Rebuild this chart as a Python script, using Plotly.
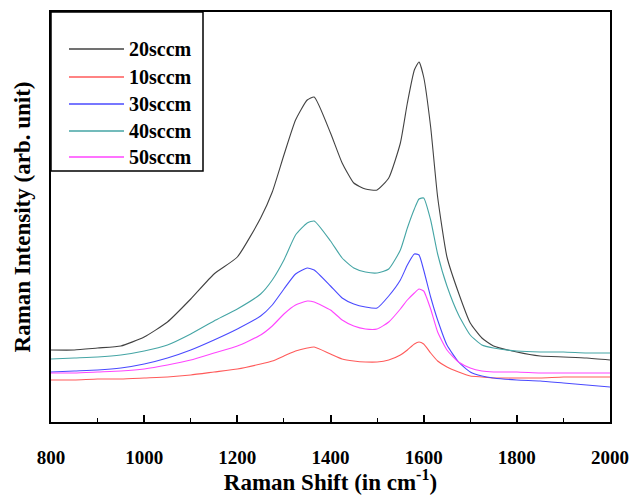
import plotly.graph_objects as go

# Raman shift (cm^-1) sample positions
shift = [800, 850, 900, 950, 1000, 1050, 1100, 1150, 1200, 1250, 1275, 1300, 1325,
         1350, 1365, 1400, 1425, 1450, 1475, 1500, 1525, 1550, 1565, 1580, 1590,
         1600, 1615, 1630, 1650, 1675, 1700, 1725, 1750, 1800, 1850, 1900, 1950, 2000]

# Intensities (arb. unit)
i_20 = [72, 72, 74, 76, 85, 100, 123, 148, 165, 204, 230, 267, 302,
        322, 325, 289, 259, 239, 233, 232, 244, 279, 319, 352, 360,
        345, 295, 225, 165, 129, 99, 84, 76, 70, 66, 65, 64, 62]
i_10 = [42, 42, 43, 43, 44, 45, 47, 50, 53, 58, 61, 66, 71,
        74, 75, 68, 63, 61, 60, 60, 62, 67, 72, 78, 80,
        78, 69, 61, 55, 50, 46, 45, 44, 44, 44, 45, 45, 45]
i_30 = [50, 51, 52, 54, 58, 64, 72, 82, 93, 106, 117, 133, 148,
        154, 152, 136, 124, 118, 115, 114, 126, 142, 157, 168, 167,
        152, 125, 102, 77, 60, 50, 46, 44, 42, 41, 39, 37, 35]
i_40 = [63, 64, 65, 67, 71, 77, 88, 101, 113, 128, 142, 162, 187,
        199, 201, 181, 164, 154, 150, 149, 153, 172, 194, 213, 223,
        224, 202, 168, 136, 107, 87, 77, 74, 71, 70, 70, 69, 69]
i_50 = [49, 49, 50, 51, 53, 57, 62, 69, 76, 87, 96, 108, 117,
        121, 120, 112, 102, 96, 93, 93, 100, 113, 122, 129, 133,
        131, 113, 90, 72, 60, 54, 51, 50, 50, 49, 49, 49, 49]

names = ["20sccm", "10sccm", "30sccm", "40sccm", "50sccm"]
series = [i_20, i_10, i_30, i_40, i_50]
colors = ["#424242", "#ff5a5a", "#4a4aff", "#45a5a5", "#ff45ff"]

x_ticks = [800, 1000, 1200, 1400, 1600, 1800, 2000]

FONT = "Liberation Serif"

fig = go.Figure()
for name, ys, c in zip(names, series, colors):
    fig.add_trace(go.Scatter(x=shift, y=ys, mode="lines", name=name,
                             line=dict(color=c, width=1.1, shape="spline", smoothing=0.5),
                             showlegend=False))

# Manual legend box (paper coords)
W, H = 559.0, 410.0
shapes = [dict(type="rect", xref="paper", yref="paper", x0=0, x1=152 / W,
               y0=(422 - 171) / H, y1=1.0, line=dict(color="black", width=1.5),
               fillcolor="white", layer="above")]
annotations = []
item_y = [49, 77, 104, 131, 157]
for name, c, yy in zip(names, colors, item_y):
    yp = (422 - yy) / H
    shapes.append(dict(type="line", xref="paper", yref="paper", x0=18 / W, x1=73 / W,
                       y0=yp, y1=yp, line=dict(color=c, width=1.3), layer="above"))
    annotations.append(dict(xref="paper", yref="paper", x=76 / W, y=yp, text=name,
                            showarrow=False, xanchor="left", yanchor="middle",
                            font=dict(family=FONT, size=20, color="black", weight="bold")))

fig.update_layout(
    width=632, height=495,
    margin=dict(l=51, r=22, t=12, b=73),
    paper_bgcolor="white", plot_bgcolor="white",
    font=dict(family=FONT, color="black"),
    shapes=shapes, annotations=annotations,
    xaxis=dict(range=[800, 2000], tickvals=x_ticks, ticktext=[str(v) for v in x_ticks],
               ticks="inside", ticklen=7, tickwidth=1.5, tickcolor="black",
               minor=dict(dtick=100, ticks="inside", ticklen=4, tickwidth=1.2, tickcolor="black"),
               showline=True, linecolor="black", linewidth=1.5, mirror=True,
               showgrid=False, zeroline=False, automargin=False,
               tickfont=dict(family=FONT, size=19, color="black", weight="bold"),
               ticklabelstandoff=17,
               title=dict(text="Raman Shift (in cm<sup>-1</sup>)", standoff=6,
                          font=dict(family=FONT, size=23, color="black", weight="bold"))),
    yaxis=dict(range=[0, 410], showticklabels=False, ticks="",
               showline=True, linecolor="black", linewidth=1.5, mirror=True,
               showgrid=False, zeroline=False, automargin=False,
               title=dict(text="Raman Intensity (arb. unit)", standoff=12,
                          font=dict(family=FONT, size=23, color="black", weight="bold"))),
)

fig.write_html("out.html")
